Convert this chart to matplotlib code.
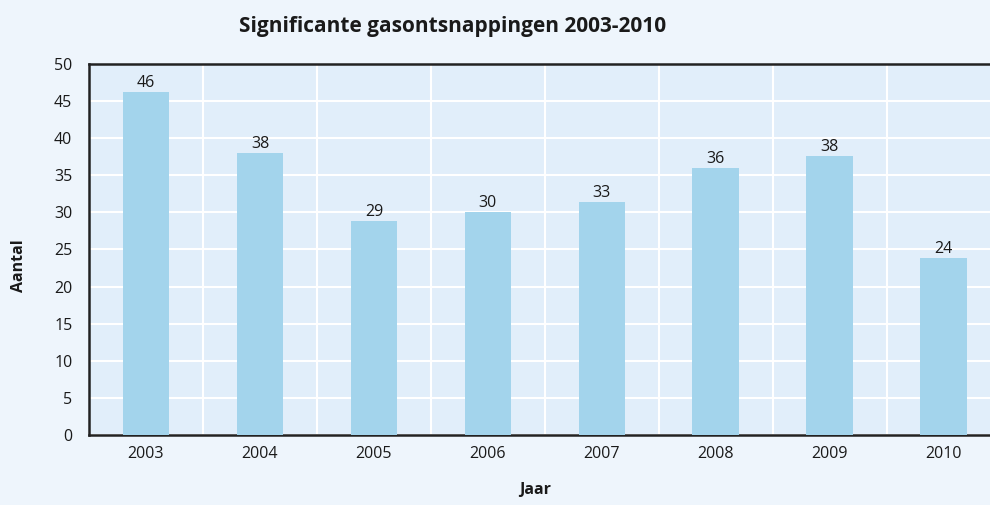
import matplotlib as mpl
import matplotlib.pyplot as plt
import numpy as np

# data
YEARS = ["2003", "2004", "2005", "2006", "2007", "2008", "2009", "2010"]
HEIGHTS = [46.2, 38.0, 28.8, 30.0, 31.4, 36.0, 37.6, 23.9]
LABELS = ["46", "38", "29", "30", "33", "36", "38", "24"]
YTICKS = [0, 5, 10, 15, 20, 25, 30, 35, 40, 45, 50]

mpl.rcParams["font.family"] = ["Open Sans", "DejaVu Sans"]

BG_FIG = "#eef5fc"
BG_AX = "#e1eefa"
BAR = "#a3d4ec"
INK = "#1a1a1a"

fig = plt.figure(figsize=(9.9, 5.05), dpi=100, facecolor=BG_FIG)
ax = fig.add_axes([0.0899, 0.1386, 0.921, 0.7347], facecolor=BG_AX)

x = np.arange(len(YEARS))
ax.bar(x, HEIGHTS, width=0.41, color=BAR, zorder=3)
for xi, h, lab in zip(x, HEIGHTS, LABELS):
    ax.text(xi, h + 0.15, lab, ha="center", va="bottom",
            fontsize=11.5, color=INK, zorder=4)

ax.set_xlim(-0.5, len(YEARS) - 0.5)
ax.set_ylim(0, 50)
ax.set_yticks(YTICKS)
ax.set_xticks(x)
ax.set_xticklabels(YEARS)
ax.set_xticks(np.arange(len(YEARS) - 1) + 0.5, minor=True)
ax.tick_params(axis="both", which="both", length=0, labelsize=11.5,
               colors=INK)
ax.tick_params(axis="x", pad=8)
ax.tick_params(axis="y", pad=12)
ax.grid(axis="y", which="major", color="white", linewidth=1.5, zorder=0)
ax.grid(axis="x", which="minor", color="white", linewidth=1.5, zorder=0)
ax.grid(axis="x", which="major", visible=False)
ax.set_axisbelow(True)

for side in ("left", "bottom", "top"):
    ax.spines[side].set_color("#222222")
    ax.spines[side].set_linewidth(1.8)
ax.spines["right"].set_visible(False)

fig.text(0.457, 0.948, "Significante gasontsnappingen 2003-2010",
         ha="center", va="center", fontsize=15, fontweight="bold", color=INK)
fig.text(0.0195, 0.473, "Aantal", rotation=90, ha="center", va="center",
         fontsize=11.5, fontweight="bold", color=INK)
fig.text(0.541, 0.014, "Jaar", ha="center", va="bottom",
         fontsize=11.5, fontweight="bold", color=INK)

fig.savefig("out.png", dpi=100, facecolor=BG_FIG)
